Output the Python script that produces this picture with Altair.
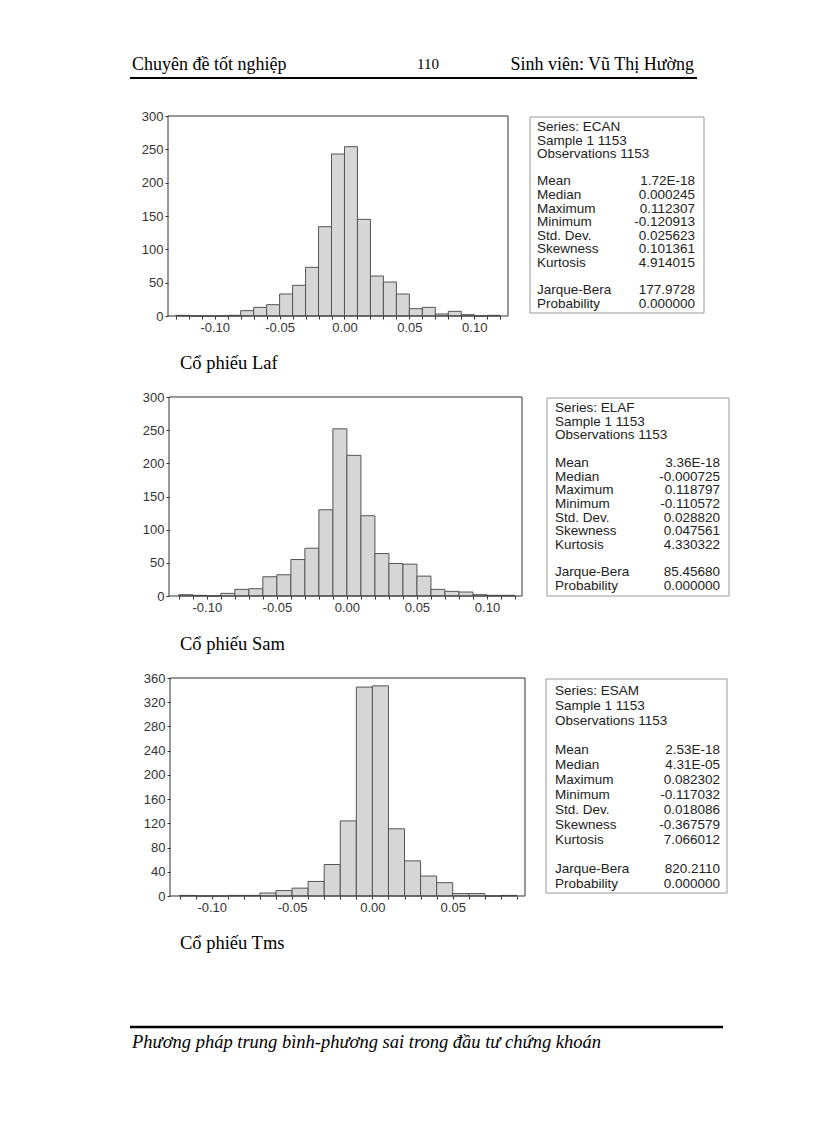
import altair as alt
import pandas as pd

M = 8          # page margin
W, H = 800, 1107

# ---------------- data ----------------
ecan_lo = [-0.13, -0.12, -0.11, -0.10, -0.09, -0.08, -0.07, -0.06, -0.05, -0.04, -0.03, -0.02, -0.01,
           0.00, 0.01, 0.02, 0.03, 0.04, 0.05, 0.06, 0.07, 0.08, 0.09, 0.10, 0.11]
ecan_counts = [1, 0, 0, 0, 1, 8, 13, 17, 33, 46, 73, 134, 243,
               254, 145, 60, 51, 33, 11, 13, 3, 7, 2, 0, 1]

elaf_lo = [-0.12, -0.11, -0.10, -0.09, -0.08, -0.07, -0.06, -0.05, -0.04, -0.03, -0.02, -0.01,
           0.00, 0.01, 0.02, 0.03, 0.04, 0.05, 0.06, 0.07, 0.08, 0.09, 0.10, 0.11]
elaf_counts = [2, 1, 0, 4, 10, 11, 29, 32, 55, 72, 130, 252,
               212, 121, 64, 49, 48, 30, 10, 7, 6, 2, 1, 1]

esam_lo = [-0.12, -0.11, -0.10, -0.09, -0.08, -0.07, -0.06, -0.05, -0.04, -0.03, -0.02, -0.01,
           0.00, 0.01, 0.02, 0.03, 0.04, 0.05, 0.06, 0.07, 0.08]
esam_counts = [1, 0, 0, 1, 1, 5, 9, 13, 24, 52, 124, 345,
               347, 111, 58, 33, 22, 4, 4, 0, 1]

ticks_1 = [-0.13, -0.12, -0.11, -0.10, -0.09, -0.08, -0.07, -0.06, -0.05, -0.04, -0.03, -0.02, -0.01,
           0.00, 0.01, 0.02, 0.03, 0.04, 0.05, 0.06, 0.07, 0.08, 0.09, 0.10, 0.11, 0.12]
ticks_2 = [-0.12, -0.11, -0.10, -0.09, -0.08, -0.07, -0.06, -0.05, -0.04, -0.03, -0.02, -0.01,
           0.00, 0.01, 0.02, 0.03, 0.04, 0.05, 0.06, 0.07, 0.08, 0.09, 0.10, 0.11, 0.12]
ticks_3 = [-0.12, -0.11, -0.10, -0.09, -0.08, -0.07, -0.06, -0.05, -0.04, -0.03, -0.02, -0.01,
           0.00, 0.01, 0.02, 0.03, 0.04, 0.05, 0.06, 0.07, 0.08, 0.09]
yticks_1 = [0, 50, 100, 150, 200, 250, 300]
yticks_2 = [0, 50, 100, 150, 200, 250, 300]
yticks_3 = [0, 40, 80, 120, 160, 200, 240, 280, 320, 360]

stat_names = ["Mean", "Median", "Maximum", "Minimum", "Std. Dev.", "Skewness", "Kurtosis"]
stats_ecan = ["1.72E-18", "0.000245", "0.112307", "-0.120913", "0.025623", "0.101361", "4.914015"]
stats_elaf = ["3.36E-18", "-0.000725", "0.118797", "-0.110572", "0.028820", "0.047561", "4.330322"]
stats_esam = ["2.53E-18", "4.31E-05", "0.082302", "-0.117032", "0.018086", "-0.367579", "7.066012"]
jb_ecan, jb_elaf, jb_esam = "177.9728", "85.45680", "820.2110"
prob = "0.000000"
series_names = ["ECAN", "ELAF", "ESAM"]
captions = ["Cổ phiếu Laf", "Cổ phiếu Sam", "Cổ phiếu Tms"]

AX_FONT = "Liberation Sans"
SERIF = "Liberation Serif"


def panel(lo, counts, xdom, xr, ymax, yr, xticks, yticks):
    df = pd.DataFrame({"lo": lo, "hi": [round(v + 0.01, 2) for v in lo], "count": counts})
    xs = alt.Scale(domain=xdom, range=[xr[0] - M, xr[1] - M], nice=False, zero=False)
    ys = alt.Scale(domain=[0, ymax], range=[yr[0] - M, yr[1] - M], nice=False)
    xaxis = alt.Axis(orient="bottom", offset=(yr[0] - M) - H, values=xticks,
                     labelExpr="abs(round(datum.value*100)) % 5 == 0 ? replace(format(datum.value, '.2f'), '\u2212', '-') : ''",
                     tickSize=3, domain=False, grid=False, title=None, labelFont=AX_FONT,
                     labelFontSize=13, labelPadding=2, tickColor="#333", labelColor="#333",
                     labelOverlap=False, labelFlush=False, labelBound=False)
    yaxis = alt.Axis(orient="left", offset=-(xr[0] - M), values=yticks, tickSize=3,
                     domain=False, grid=False, title=None, labelFont=AX_FONT, labelFontSize=13,
                     labelPadding=2, tickColor="#333", labelColor="#333", labelFlush=False,
                     labelOverlap=False, labelBound=False)
    bars = alt.Chart(df).mark_bar(fill="#d6d6d6", stroke="#555", strokeWidth=1).encode(
        x=alt.X("lo:Q", scale=xs, axis=xaxis),
        x2="hi:Q",
        y=alt.Y("count:Q", scale=ys, axis=yaxis),
        y2=alt.datum(0),
    )
    return bars


def text_layer(txt, x, y, size, font=AX_FONT, align="left", style="normal", color="#222"):
    return alt.Chart(pd.DataFrame({"t": [txt]})).mark_text(
        align=align, baseline="alphabetic", font=font, fontSize=size, fontStyle=style, color=color
    ).encode(text="t:N", x=alt.value(x - M), y=alt.value(y - M))


def box(x0, x1, y0, y1, color="#999", width=1):
    return alt.Chart(pd.DataFrame({"a": [0]})).mark_rect(fillOpacity=0, stroke=color, strokeWidth=width).encode(
        x=alt.value(x0 - M), x2=alt.value(x1 - M), y=alt.value(y0 - M), y2=alt.value(y1 - M)
    )


def hline(x0, x1, y, width, color="#000"):
    return alt.Chart(pd.DataFrame({"a": [0]})).mark_rule(color=color, strokeWidth=width).encode(
        x=alt.value(x0 - M), x2=alt.value(x1 - M), y=alt.value(y - M)
    )


def stats_block(name, vals, jb, left, right, top, lh, size=13.5):
    labels = ["Series: " + name, "Sample 1 1153", "Observations 1153"] + stat_names + ["Jarque-Bera", "Probability"]
    values = ["", "", ""] + vals + [jb, prob]
    rows = [0, 1, 2, 4, 5, 6, 7, 8, 9, 10, 12, 13]
    df = pd.DataFrame({"row": rows, "label": labels, "value": values})
    ys = alt.Scale(domain=[0, 1], range=[top - M, top - M + lh], nice=False, zero=False)
    base = alt.Chart(df)
    lt = base.mark_text(align="left", baseline="alphabetic", font=AX_FONT, fontSize=size, color="#222").encode(
        text="label:N", x=alt.value(left - M), y=alt.Y("row:Q", scale=ys, axis=None))
    rt = base.mark_text(align="right", baseline="alphabetic", font=AX_FONT, fontSize=size, color="#222").encode(
        text="value:N", x=alt.value(right - M), y=alt.Y("row:Q", scale=ys, axis=None))
    return [alt.layer(lt, rt)]


p1 = panel(ecan_lo, ecan_counts, [-0.136, 0.126], [168, 508], 300, [316, 116], ticks_1, yticks_1)
p2 = panel(elaf_lo, elaf_counts, [-0.127, 0.125], [169, 522], 300, [596, 397], ticks_2, yticks_2)
p3 = panel(esam_lo, esam_counts, [-0.126, 0.095], [170, 525], 360, [896, 678], ticks_3, yticks_3)

layers = [p1, p2, p3]
# plot frames and statistics boxes
layers += [box(168, 508, 116, 316, color="#333"), box(169, 522, 397, 596, color="#333"),
           box(170, 525, 678, 896, color="#333")]
layers += [box(530, 704, 117, 313), box(547, 729, 398, 596), box(546, 727, 679, 893)]
layers += stats_block(series_names[0], stats_ecan, jb_ecan, 537, 695, 131, 13.6)
layers += stats_block(series_names[1], stats_elaf, jb_elaf, 555, 720, 412, 13.7)
layers += stats_block(series_names[2], stats_esam, jb_esam, 555, 720, 695, 14.85)

# captions
layers += [text_layer(captions[0], 180, 369, 18.5, font=SERIF, color="#000"),
           text_layer(captions[1], 180, 650, 18.5, font=SERIF, color="#000"),
           text_layer(captions[2], 180, 949, 18.5, font=SERIF, color="#000")]

# page header / footer
layers += [text_layer("Chuyên đề tốt nghiệp", 132, 70, 18, font=SERIF, color="#000"),
           text_layer("110", 428, 69, 15, font=SERIF, align="center", color="#000"),
           text_layer("Sinh viên: Vũ Thị Hường", 694, 70, 18, font=SERIF, align="right", color="#000"),
           hline(130, 697, 78, 2),
           hline(130, 723, 1027, 2.5),
           text_layer("Phương pháp trung bình-phương sai trong đầu tư chứng khoán", 132, 1048, 18.5,
                      font=SERIF, style="italic", color="#000")]

chart = alt.layer(*layers).resolve_scale(x="independent", y="independent").resolve_axis(
    x="independent", y="independent"
).properties(
    width=W, height=H, autosize=alt.AutoSizeParams(type="none"), padding=0, background="white"
).configure_view(stroke="transparent").configure_axis(labelOverlap=False)

chart.save("out.html", embed_options={"renderer": "svg", "actions": False})
